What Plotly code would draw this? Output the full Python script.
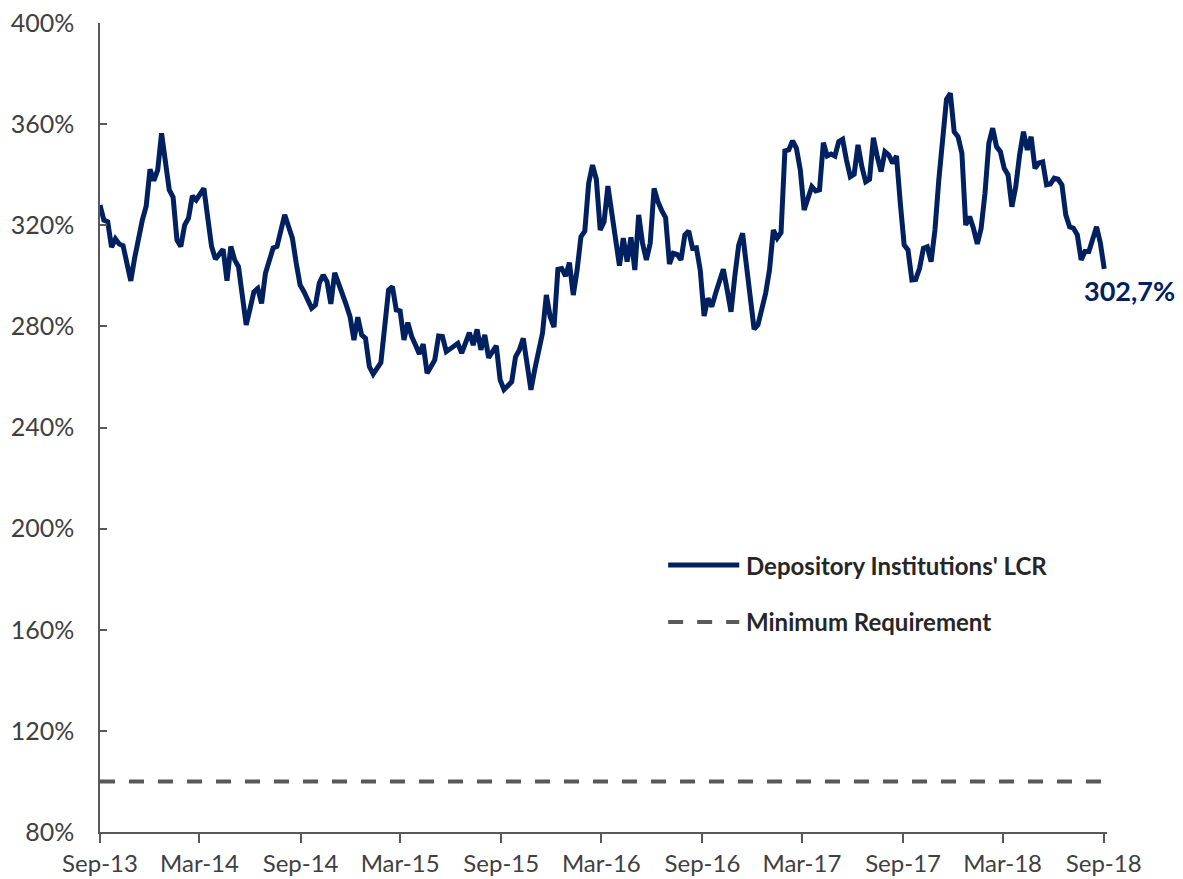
import pandas as pd
import plotly.graph_objects as go

# Weekly LCR of depository institutions (%)
lcr = [
    328.0, 322.0, 321.4, 311.3, 314.6, 312.6, 311.9, 304.0, 298.0, 307.0,
    315.5, 322.0, 327.5, 342.1, 337.6, 341.9, 356.4, 343.2, 334.0, 331.1,
    314.2, 311.6, 320.1, 322.8, 331.6, 330.0, 332.0, 334.6, 323.0, 311.6,
    306.6, 308.5, 310.5, 298.1, 311.6, 306.3, 303.6, 292.0, 280.6, 287.0,
    293.7, 295.0, 289.1, 301.0, 306.0, 311.0, 311.6, 318.0, 324.1, 319.5,
    314.9, 305.0, 296.4, 293.7, 290.5, 287.2, 288.5, 297.1, 300.3, 297.7,
    288.9, 301.2, 297.0, 293.1, 288.5, 283.8, 274.6, 283.6, 276.6, 275.3,
    264.1, 261.1, 263.4, 265.7, 280.0, 294.4, 295.7, 286.5, 286.1, 274.6,
    281.5, 276.0, 272.6, 269.1, 273.0, 261.5, 264.0, 266.7, 276.2, 276.0,
    270.0, 271.0, 272.3, 273.3, 269.4, 273.5, 277.5, 272.6, 278.8, 270.7,
    276.6, 267.6, 270.0, 272.3, 258.8, 255.0, 256.5, 258.1, 268.0, 270.7,
    275.3, 265.0, 254.9, 263.0, 270.7, 277.3, 292.4, 283.8, 279.7, 302.6,
    302.9, 299.9, 305.2, 292.4, 302.3, 315.5, 317.7, 336.6, 343.8, 338.2,
    318.1, 321.4, 335.5, 325.4, 314.9, 304.0, 314.9, 305.6, 315.2, 302.3,
    324.1, 312.9, 306.3, 312.9, 334.6, 329.3, 325.8, 323.0, 304.7, 308.9,
    308.5, 306.3, 316.2, 317.7, 310.9, 311.1, 302.3, 284.1, 291.1, 287.8,
    293.1, 298.0, 302.6, 294.4, 285.8, 300.0, 312.2, 316.8, 305.0, 290.0,
    278.9, 280.6, 287.0, 293.1, 302.3, 318.1, 314.9, 317.1, 349.4, 349.8,
    353.4, 350.4, 341.9, 326.0, 330.7, 335.3, 333.6, 334.0, 352.7, 347.4,
    348.2, 347.4, 353.1, 354.0, 345.8, 339.2, 340.2, 351.8, 343.2, 337.2,
    338.2, 354.6, 347.1, 341.2, 349.1, 347.8, 344.5, 347.4, 328.7, 312.2,
    310.2, 298.4, 298.6, 303.0, 310.9, 311.5, 305.6, 318.1, 337.9, 355.7,
    369.8, 372.2, 357.0, 355.0, 348.5, 320.1, 323.4, 318.8, 312.6, 318.8,
    332.6, 352.4, 358.4, 351.1, 349.1, 342.5, 339.9, 327.3, 335.3, 347.8,
    357.0, 349.8, 355.0, 342.5, 344.7, 345.1, 336.0, 336.3, 338.6, 338.2,
    336.0, 324.1, 319.4, 318.8, 316.2, 306.3, 309.6, 309.6, 314.9, 319.4,
    312.9, 302.7,
]
start_date = "2013-09-06"
dates = pd.date_range(start_date, periods=len(lcr), freq="W-FRI")

min_requirement = 100.0

tick_dates = ["2013-09-06", "2014-03-06", "2014-09-06", "2015-03-06", "2015-09-06",
              "2016-03-06", "2016-09-06", "2017-03-06", "2017-09-06", "2018-03-06",
              "2018-09-06"]
tick_labels = ["Sep-13", "Mar-14", "Sep-14", "Mar-15", "Sep-15", "Mar-16",
               "Sep-16", "Mar-17", "Sep-17", "Mar-18", "Sep-18"]
y_ticks = [80, 120, 160, 200, 240, 280, 320, 360, 400]

series_names = ["Depository Institutions' LCR", "Minimum Requirement"]

NAVY = "#002060"
GRAY = "#595959"
TEXT = "#404040"
FONT = "Lato"

fig = go.Figure()
fig.add_trace(go.Scatter(
    x=dates, y=lcr, mode="lines", name=series_names[0],
    line=dict(color=NAVY, width=5, shape="linear"), showlegend=False,
))
fig.add_trace(go.Scatter(
    x=[dates[0], dates[-1]], y=[min_requirement, min_requirement], mode="lines",
    name=series_names[1], line=dict(color=GRAY, width=4, dash="15px,14px"),
    showlegend=False,
))

# last value label
last_txt = f"{lcr[-1]:.1f}%".replace(".", ",")
fig.add_annotation(x=dates[-1], y=lcr[-1], text=f"<b>{last_txt}</b>", showarrow=False,
                   xanchor="center", yanchor="middle", xshift=25, yshift=-22,
                   font=dict(family=FONT, size=27, color=NAVY))

# custom legend
lx0, lx1, ltx = 0.5642, 0.6348, 0.6395
ly = [0.330, 0.2596]
fig.add_shape(type="line", xref="paper", yref="paper", x0=lx0, x1=lx1, y0=ly[0], y1=ly[0],
              line=dict(color=NAVY, width=5))
fig.add_shape(type="line", xref="paper", yref="paper", x0=lx0, x1=lx1, y0=ly[1], y1=ly[1],
              line=dict(color=GRAY, width=4, dash="15px,14px"))
for name, yy in zip(series_names, ly):
    fig.add_annotation(xref="paper", yref="paper", x=ltx, y=yy, text=f"<b>{name}</b>",
                       showarrow=False, xanchor="left", yanchor="middle",
                       font=dict(family=FONT, size=24, color="#262626"))

# page body has an 8px margin, so the figure is 8px smaller than the window
fig.update_layout(
    width=1175, height=871,
    margin=dict(l=92, r=76, t=15, b=47),
    paper_bgcolor="white", plot_bgcolor="white",
    font=dict(family=FONT, size=24, color=TEXT),
)
fig.update_xaxes(
    type="date", range=["2013-09-06", "2018-09-12"], automargin=False,
    tickmode="array", tickvals=tick_dates, ticktext=tick_labels,
    showgrid=False, zeroline=False, showline=True, linecolor=GRAY, linewidth=1.5,
    ticks="outside", ticklen=9, tickwidth=1.5, tickcolor=GRAY,
    ticklabelstandoff=0, ticklabeloverflow="allow",
    tickfont=dict(family=FONT, size=24, color=TEXT),
)
fig.update_yaxes(
    range=[80, 400], tickmode="array", tickvals=y_ticks, automargin=False,
    ticktext=[f"{v}%" for v in y_ticks],
    showgrid=False, zeroline=False, showline=True, linecolor=GRAY, linewidth=1.5,
    ticks="inside", ticklen=7, tickwidth=1.5, tickcolor=GRAY,
    ticklabelstandoff=19, ticklabeloverflow="allow",
    tickfont=dict(family=FONT, size=25, color=TEXT),
)

fig.write_html("out.html")
